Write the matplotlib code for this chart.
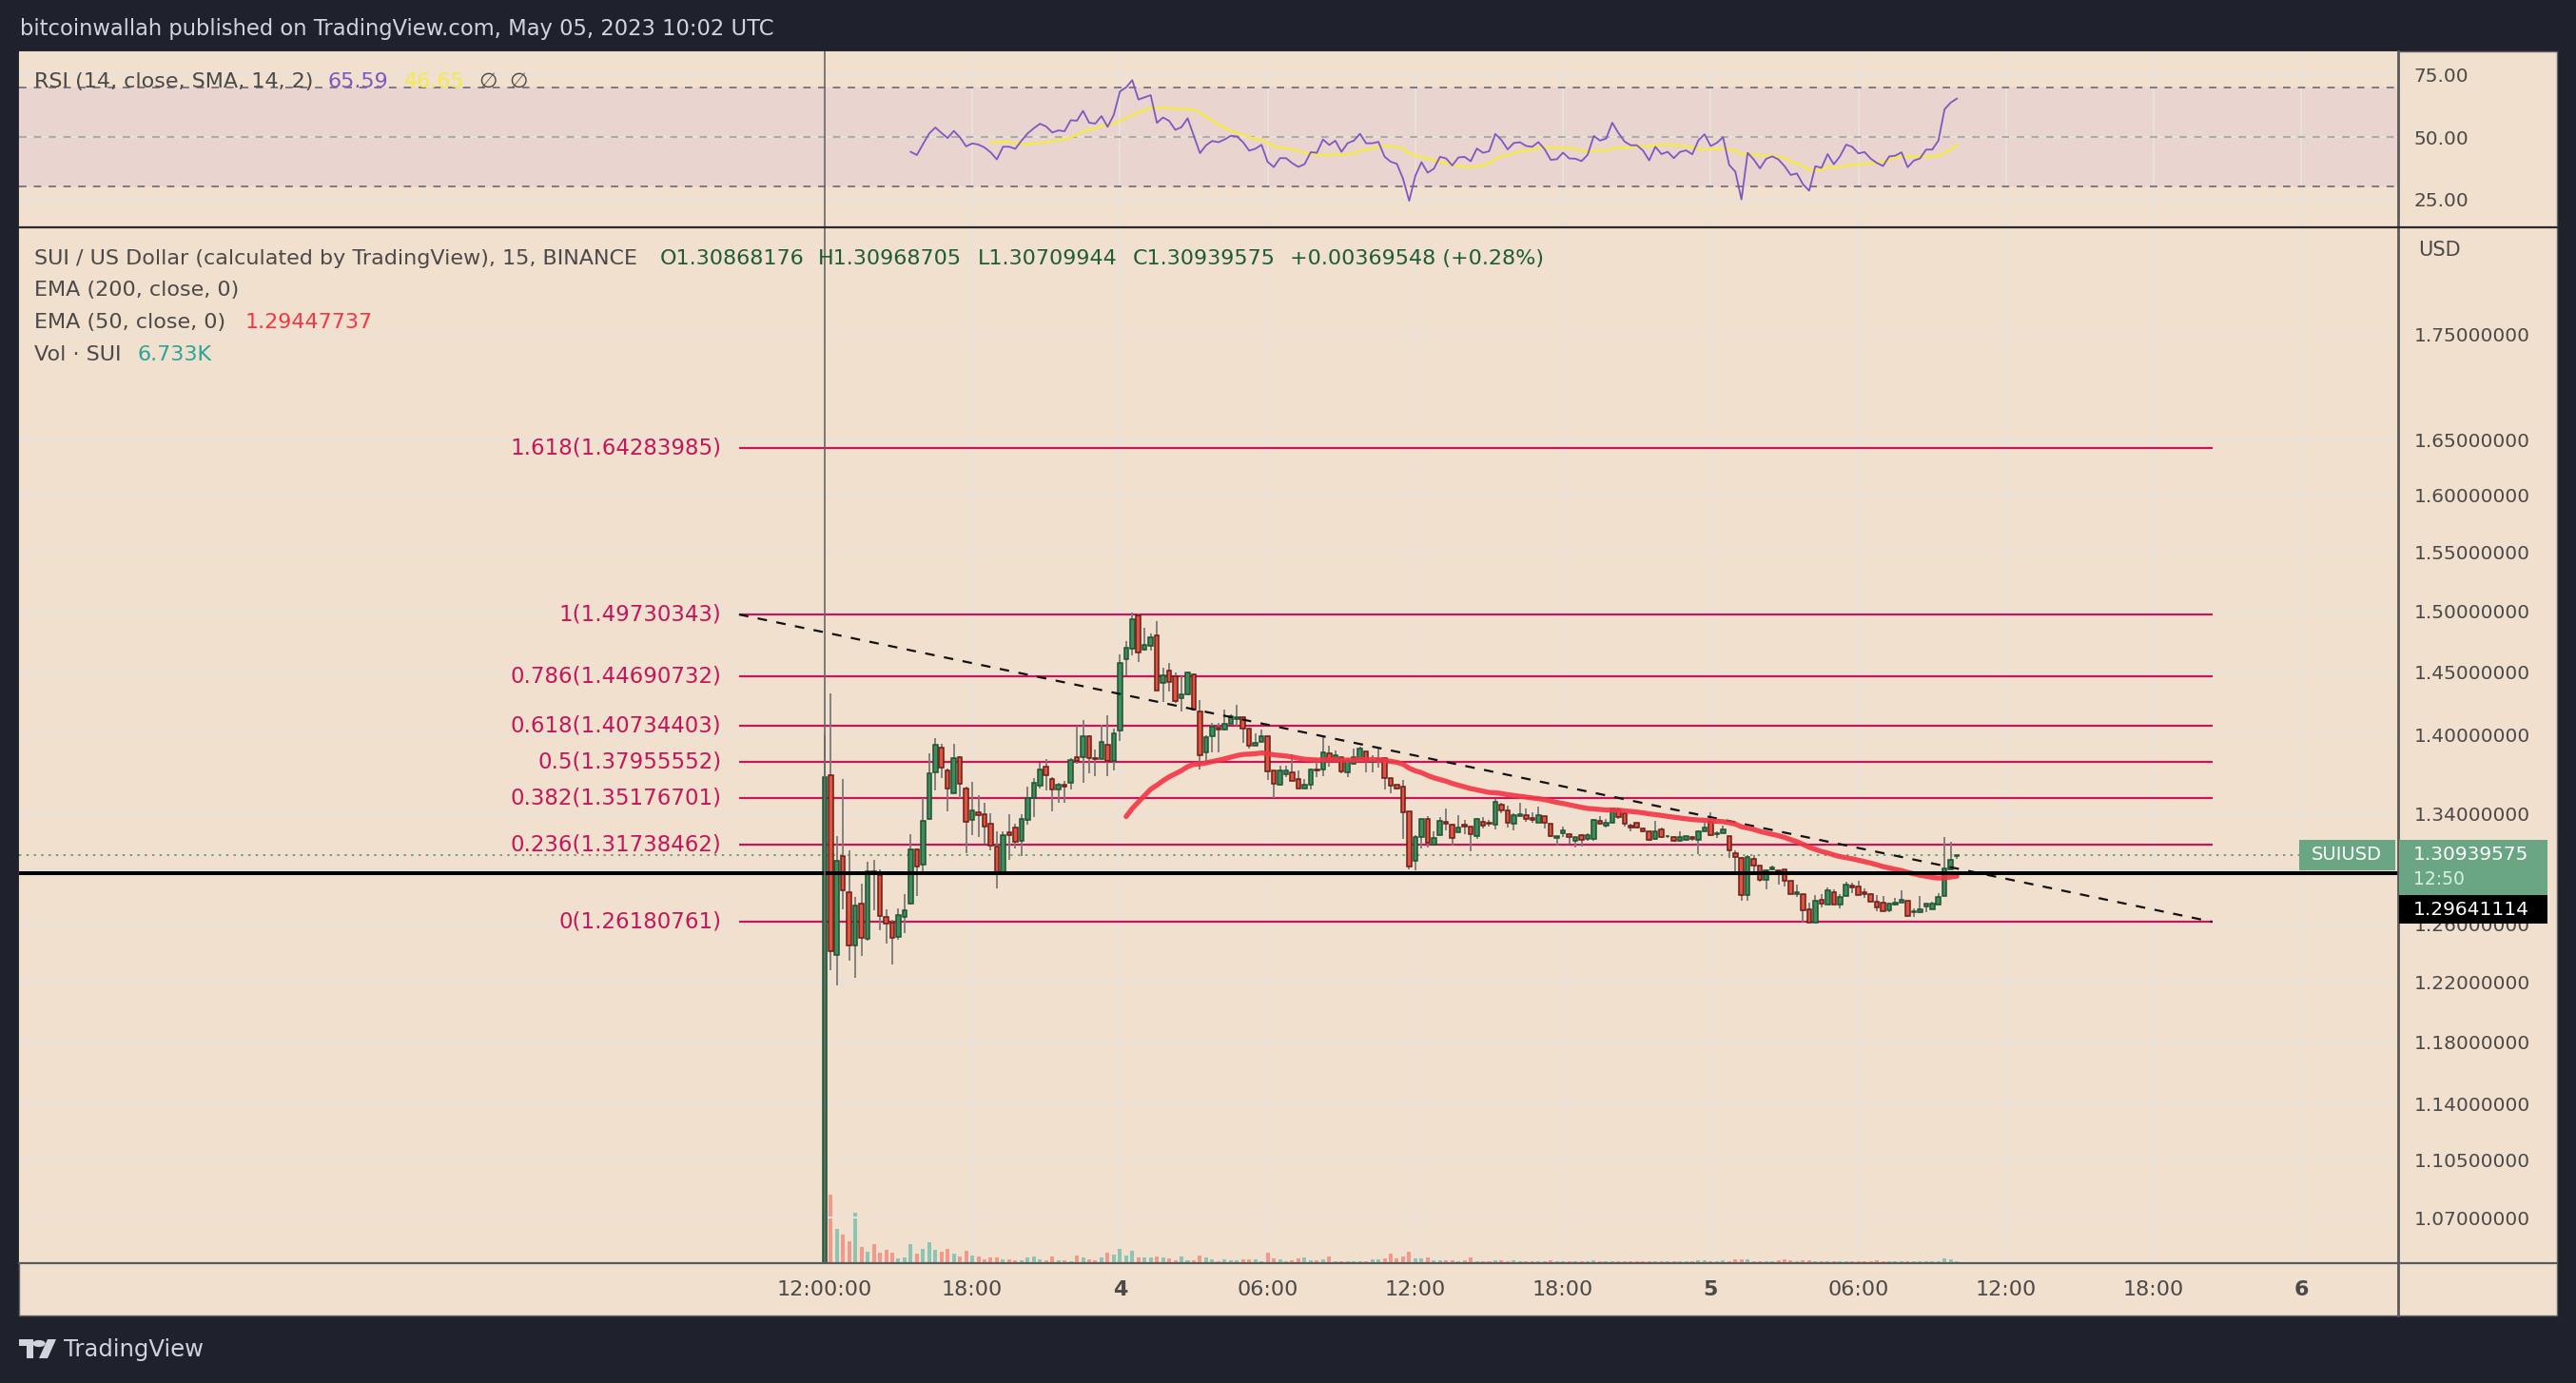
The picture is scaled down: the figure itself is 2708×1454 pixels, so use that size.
import matplotlib
matplotlib.use("Agg")
import matplotlib.pyplot as plt
from matplotlib.patches import Rectangle, Polygon, Circle
from matplotlib.ticker import FixedLocator, NullLocator
import numpy as np
import pandas as pd

# ---- data: SUIUSD 15m candles from May 03 12:00 UTC (bar 0) ----
opens = [0.90, 1.3692, 1.2385, 1.3090, 1.2830, 1.2455, 1.2749, 1.2499, 1.2978, 1.2948,
         1.2654, 1.2614, 1.2510, 1.2654, 1.2744, 1.3136, 1.3028, 1.3361, 1.3716, 1.3904,
         1.3731, 1.3555, 1.3828, 1.3591, 1.3358, 1.3408, 1.3399, 1.3325, 1.3160, 1.2960,
         1.3264, 1.3299, 1.3201, 1.3354, 1.3519, 1.3613, 1.3758, 1.3661, 1.3580, 1.3620,
         1.3634, 1.3828, 1.3828, 1.3990, 1.3824, 1.3816, 1.3926, 1.3802, 1.4040, 1.4605,
         1.4691, 1.4963, 1.4680, 1.4714, 1.4800, 1.4413, 1.4511, 1.4470, 1.4290, 1.4322,
         1.4480, 1.4186, 1.3865, 1.3993, 1.4062, 1.4042, 1.4089, 1.4126, 1.4141, 1.4052,
         1.3919, 1.3948, 1.3990, 1.3726, 1.3620, 1.3699, 1.3712, 1.3661, 1.3592, 1.3622,
         1.3734, 1.3736, 1.3858, 1.3802, 1.3828, 1.3716, 1.3775, 1.3816, 1.3872, 1.3794,
         1.3809, 1.3821, 1.3670, 1.3618, 1.3603, 1.3420, 1.3051, 1.3229, 1.3361, 1.3174,
         1.3243, 1.3342, 1.3318, 1.3260, 1.3318, 1.3304, 1.3234, 1.3339, 1.3332, 1.3318,
         1.3467, 1.3429, 1.3323, 1.3384, 1.3387, 1.3370, 1.3335, 1.3382, 1.3327, 1.3218,
         1.3257, 1.3248, 1.3199, 1.3243, 1.3215, 1.3211, 1.3351, 1.3311, 1.3337, 1.3432,
         1.3406, 1.3313, 1.3332, 1.3290, 1.3269, 1.3213, 1.3283, 1.3232, 1.3227, 1.3197,
         1.3206, 1.3225, 1.3204, 1.3271, 1.3342, 1.3246, 1.3255, 1.3234, 1.3112, 1.3073,
         1.2810, 1.3071, 1.3021, 1.2914, 1.2994, 1.2987, 1.2990, 1.2907, 1.2816, 1.2812,
         1.2704, 1.2615, 1.2771, 1.2740, 1.2830, 1.2740, 1.2800, 1.2873, 1.2871, 1.2830,
         1.2816, 1.2762, 1.2751, 1.2699, 1.2740, 1.2755, 1.2769, 1.2686, 1.2688, 1.2726,
         1.2704, 1.2740, 1.2803, 1.2993, 1.30868176]
highs = [1.4000, 1.4330, 1.3236, 1.3659, 1.3132, 1.2796, 1.2891, 1.3044, 1.3058, 1.2989,
         1.2704, 1.2632, 1.2711, 1.2812, 1.3246, 1.3143, 1.3515, 1.3862, 1.3980, 1.3929,
         1.3741, 1.3936, 1.3840, 1.3608, 1.3644, 1.3543, 1.3484, 1.3401, 1.3271, 1.3267,
         1.3394, 1.3323, 1.3394, 1.3608, 1.3671, 1.3789, 1.3813, 1.3680, 1.3637, 1.3651,
         1.3826, 1.4074, 1.4121, 1.3998, 1.3887, 1.4084, 1.4159, 1.4050, 1.4646, 1.4753,
         1.4990, 1.4984, 1.4866, 1.4813, 1.4921, 1.4539, 1.4577, 1.4495, 1.4470, 1.4506,
         1.4490, 1.4280, 1.3998, 1.4097, 1.4099, 1.4201, 1.4161, 1.4237, 1.4146, 1.4052,
         1.4015, 1.4047, 1.4000, 1.3726, 1.3765, 1.3765, 1.3850, 1.3729, 1.3661, 1.3741,
         1.3819, 1.3988, 1.3919, 1.3882, 1.3828, 1.3826, 1.3896, 1.3914, 1.3872, 1.3845,
         1.3901, 1.3821, 1.3670, 1.3618, 1.3658, 1.3420, 1.3243, 1.3365, 1.3380, 1.3267,
         1.3377, 1.3437, 1.3323, 1.3389, 1.3358, 1.3304, 1.3370, 1.3375, 1.3353, 1.3508,
         1.3486, 1.3460, 1.3401, 1.3484, 1.3437, 1.3413, 1.3455, 1.3382, 1.3327, 1.3236,
         1.3306, 1.3253, 1.3227, 1.3248, 1.3253, 1.3365, 1.3384, 1.3365, 1.3441, 1.3448,
         1.3418, 1.3323, 1.3337, 1.3299, 1.3271, 1.3351, 1.3295, 1.3243, 1.3236, 1.3267,
         1.3235, 1.3236, 1.3276, 1.3337, 1.3408, 1.3267, 1.3313, 1.3234, 1.3127, 1.3085,
         1.3095, 1.3097, 1.3021, 1.2994, 1.3017, 1.2987, 1.2993, 1.2907, 1.2880, 1.2812,
         1.2755, 1.2805, 1.2816, 1.2861, 1.2845, 1.2812, 1.2902, 1.2898, 1.2907, 1.2857,
         1.2823, 1.2807, 1.2800, 1.2755, 1.2789, 1.2839, 1.2769, 1.2715, 1.2800, 1.2749,
         1.2762, 1.2823, 1.3225, 1.3196, 1.30968705]
lows = [0.90, 1.2281, 1.2179, 1.2704, 1.2346, 1.2231, 1.2378, 1.2486, 1.2700, 1.2559,
        1.2466, 1.2324, 1.2495, 1.2539, 1.2740, 1.2801, 1.2971, 1.3354, 1.3579, 1.3668,
        1.3419, 1.3555, 1.3519, 1.3108, 1.3241, 1.3225, 1.3178, 1.3128, 1.2857, 1.2955,
        1.3062, 1.3143, 1.3092, 1.3318, 1.3377, 1.3591, 1.3579, 1.3420, 1.3480, 1.3484,
        1.3584, 1.3780, 1.3634, 1.3709, 1.3683, 1.3814, 1.3683, 1.3729, 1.3956, 1.4475,
        1.4639, 1.4580, 1.4675, 1.4675, 1.4353, 1.4259, 1.4343, 1.4254, 1.4184, 1.4317,
        1.4191, 1.3734, 1.3772, 1.3865, 1.3865, 1.4040, 1.4087, 1.4074, 1.3938, 1.3899,
        1.3919, 1.3948, 1.3656, 1.3520, 1.3613, 1.3680, 1.3651, 1.3592, 1.3592, 1.3584,
        1.3675, 1.3687, 1.3755, 1.3797, 1.3704, 1.3675, 1.3770, 1.3816, 1.3712, 1.3712,
        1.3748, 1.3584, 1.3556, 1.3580, 1.3213, 1.2994, 1.2982, 1.3143, 1.3150, 1.3174,
        1.3243, 1.3276, 1.3167, 1.3260, 1.3248, 1.3125, 1.3213, 1.3288, 1.3306, 1.3283,
        1.3406, 1.3299, 1.3276, 1.3384, 1.3342, 1.3330, 1.3335, 1.3288, 1.3225, 1.3167,
        1.3225, 1.3178, 1.3150, 1.3160, 1.3201, 1.3201, 1.3318, 1.3295, 1.3330, 1.3365,
        1.3306, 1.3271, 1.3290, 1.3260, 1.3197, 1.3206, 1.3218, 1.3220, 1.3190, 1.3190,
        1.3201, 1.3201, 1.3101, 1.3267, 1.3236, 1.3220, 1.3255, 1.3074, 1.2971, 1.2766,
        1.2770, 1.2971, 1.2903, 1.2846, 1.2982, 1.2884, 1.2868, 1.2812, 1.2794, 1.2615,
        1.2615, 1.2615, 1.2722, 1.2740, 1.2740, 1.2711, 1.2800, 1.2823, 1.2807, 1.2789,
        1.2760, 1.2695, 1.2695, 1.2684, 1.2733, 1.2755, 1.2655, 1.2655, 1.2677, 1.2688,
        1.2704, 1.2740, 1.2803, 1.2993, 1.30709944]
closes = [1.3680, 1.2415, 1.3055, 1.2839, 1.2455, 1.2733, 1.2504, 1.2978, 1.2955, 1.2661,
          1.2603, 1.2504, 1.2666, 1.2702, 1.3136, 1.3010, 1.3349, 1.3707, 1.3926, 1.3753,
          1.3591, 1.3821, 1.3627, 1.3342, 1.3425, 1.3389, 1.3306, 1.3167, 1.2960, 1.3243,
          1.3243, 1.3190, 1.3361, 1.3519, 1.3635, 1.3736, 1.3688, 1.3580, 1.3620, 1.3606,
          1.3809, 1.3802, 1.3990, 1.3826, 1.3814, 1.3946, 1.3802, 1.4015, 1.4575, 1.4696,
          1.4934, 1.4662, 1.4722, 1.4782, 1.4353, 1.4475, 1.4419, 1.4267, 1.4320, 1.4495,
          1.4201, 1.3845, 1.3988, 1.4067, 1.4042, 1.4089, 1.4149, 1.4141, 1.4052, 1.3919,
          1.3943, 1.3993, 1.3721, 1.3627, 1.3731, 1.3729, 1.3651, 1.3592, 1.3618, 1.3736,
          1.3729, 1.3865, 1.3802, 1.3845, 1.3719, 1.3804, 1.3828, 1.3896, 1.3802, 1.3802,
          1.3814, 1.3670, 1.3615, 1.3592, 1.3413, 1.3012, 1.3225, 1.3361, 1.3183, 1.3222,
          1.3346, 1.3323, 1.3218, 1.3297, 1.3302, 1.3246, 1.3363, 1.3313, 1.3327, 1.3491,
          1.3429, 1.3330, 1.3389, 1.3396, 1.3361, 1.3353, 1.3389, 1.3330, 1.3232, 1.3236,
          1.3278, 1.3229, 1.3227, 1.3208, 1.3241, 1.3353, 1.3323, 1.3335, 1.3437, 1.3377,
          1.3323, 1.3299, 1.3299, 1.3267, 1.3204, 1.3271, 1.3225, 1.3236, 1.3197, 1.3225,
          1.3232, 1.3211, 1.3271, 1.3299, 1.3243, 1.3257, 1.3281, 1.3132, 1.3085, 1.2807,
          1.3085, 1.3017, 1.2919, 1.2987, 1.3005, 1.2976, 1.2910, 1.2816, 1.2825, 1.2699,
          1.2615, 1.2767, 1.2749, 1.2843, 1.2740, 1.2796, 1.2884, 1.2864, 1.2807, 1.2816,
          1.2760, 1.2722, 1.2695, 1.2749, 1.2753, 1.2771, 1.2659, 1.2693, 1.2704, 1.2749,
          1.2749, 1.2794, 1.3000, 1.3058, 1.30939575]
# volume in thousands of SUI
volumes = [730, 243, 122, 102, 78, 179, 58, 41, 68, 38,
           48, 38, 18, 21, 68, 35, 52, 75, 48, 41,
           52, 35, 25, 45, 28, 25, 15, 21, 21, 15,
           15, 11, 11, 21, 25, 13, 10, 23.5, 11, 11,
           8, 27, 20, 13.5, 11, 20, 37, 30, 50, 27,
           44, 20, 20, 20, 23.5, 20, 17, 11, 23.5, 11,
           11, 27, 20, 13.5, 6.7, 13.5, 10, 10, 13.5, 13.5,
           13.5, 6.7, 37, 17, 13.5, 6.7, 10, 17, 20, 10,
           10, 13.5, 23.5, 6.7, 6.7, 6.7, 6.7, 6.7, 6.7, 13.5,
           13.5, 17, 34, 17, 23.5, 40, 17, 17, 20, 10,
           10, 10, 10, 6.7, 10, 20, 6.7, 6.7, 6.7, 10,
           10, 6.7, 10, 6.7, 6.7, 6.7, 6.7, 6.7, 10, 6.7,
           6.7, 6.7, 6.7, 6.7, 6.7, 10, 6.7, 6.7, 6.7, 6.7,
           6.7, 6.7, 6.7, 6.7, 6.7, 6.7, 6.7, 6.7, 6.7, 6.7,
           6.7, 6.7, 10, 10, 6.7, 6.7, 10, 6.7, 13.5, 13.5,
           13.5, 6.7, 6.7, 6.7, 6.7, 10, 13.5, 10, 6.7, 10,
           10, 6.7, 6.7, 6.7, 6.7, 6.7, 6.7, 6.7, 6.7, 6.7,
           6.7, 10, 6.7, 6.7, 6.7, 6.7, 6.7, 6.7, 6.7, 6.7,
           6.7, 6.7, 17, 13.5, 6.733]

fib_ratios = ["1.618", "1", "0.786", "0.618", "0.5", "0.382", "0.236", "0"]
fib_prices = [1.64283985, 1.49730343, 1.44690732, 1.40734403, 1.37955552,
              1.35176701, 1.31738462, 1.26180761]

price_ticks = [1.07, 1.105, 1.14, 1.18, 1.22, 1.26, 1.30, 1.34, 1.40, 1.45,
               1.50, 1.55, 1.60, 1.65, 1.75]
time_ticks = [0, 24, 48, 72, 96, 120, 144, 168, 192, 216, 240]
time_labels = ["12:00:00", "18:00", "4", "06:00", "12:00", "18:00", "5",
               "06:00", "12:00", "18:00", "6"]
day_labels = ["4", "5", "6"]

last_price = 1.30939575
cross_price = 1.29641114

# ---- indicators (TradingView style: SMA-seeded) ----
c = pd.Series(closes)
n = len(c)
ema50 = np.full(n, np.nan)
ema50[49] = c[:50].mean()
for i in range(50, n):
    ema50[i] = 2 / 51 * c[i] + (1 - 2 / 51) * ema50[i - 1]

d = c.diff()
gain = d.clip(lower=0).values
loss = (-d.clip(upper=0)).values
ag = np.full(n, np.nan)
al = np.full(n, np.nan)
ag[14] = gain[1:15].mean()
al[14] = loss[1:15].mean()
for i in range(15, n):
    ag[i] = (ag[i - 1] * 13 + gain[i]) / 14
    al[i] = (al[i - 1] * 13 + loss[i]) / 14
rsi = 100 - 100 / (1 + ag / al)
rsi_sma = pd.Series(rsi).rolling(14).mean().values

# ---- figure ----
W, H = 2708, 1454
BG = "#1e222d"
PANE = "#f2e0cf"
GRID = "#e8e1da"
TXT = "#4a4a4a"
fig = plt.figure(figsize=(W / 100, H / 100), dpi=100, facecolor=BG)
plt.rcParams["font.family"] = ["DejaVu Sans"]


def fx(x):
    return x / W


def fy(y):
    return 1 - y / H


fig.patches.append(Rectangle((fx(20), fy(1383)), fx(2688 - 20), (1383 - 54) / H,
                             transform=fig.transFigure, facecolor=PANE,
                             edgecolor="#666666", lw=1, zorder=-10))

x_lo, x_hi = -130.9, 255.7
rect_rsi = [fx(20), fy(238), fx(2521 - 20), (238 - 54) / H]
rect_px = [fx(20), fy(1328), fx(2521 - 20), (1328 - 239) / H]

# RSI pane
ax_r = fig.add_axes(rect_rsi, facecolor=PANE)
ax_r.set_xlim(x_lo, x_hi)
ax_r.set_ylim(14.1, 84.5)
ax_r.axhspan(30, 70, color="#b18ad6", alpha=0.13, lw=0, zorder=0)
for lvl, a in [(70, 1), (50, 0.55), (30, 1)]:
    ax_r.axhline(lvl, color="#787b86", lw=1.4, ls=(0, (4, 4)), alpha=a, zorder=1)
ax_r.plot(np.arange(n), rsi, color="#7e57c2", lw=1.3, zorder=3)
ax_r.plot(np.arange(n), rsi_sma, color="#f5e94b", lw=1.8, zorder=2)
ax_r.set_yticks([25, 50, 75])
ax_r.set_yticklabels(["25.00", "50.00", "75.00"])
ax_r.set_xticks(time_ticks)
ax_r.grid(True, color=GRID, lw=1.5)
ax_r.set_axisbelow(True)
ax_r.tick_params(axis="x", length=0, labelbottom=False)
ax_r.tick_params(axis="y", length=0, left=False, labelleft=False, right=False,
                 labelright=True, pad=12, labelsize=14.5, labelcolor=TXT)
for s in ax_r.spines.values():
    s.set_visible(False)

# volume pane (behind candles)
ax_v = fig.add_axes(rect_px, facecolor=PANE)
ax_v.set_xlim(x_lo, x_hi)
ax_v.set_ylim(0, 3680)
ax_v.set_xticks(time_ticks)
ax_v.set_yticks([])
ax_v.grid(True, axis="x", color=GRID, lw=1.5)
ax_v.tick_params(axis="x", length=0, labelbottom=False)
for s in ax_v.spines.values():
    s.set_visible(False)

o = np.array(opens)
h = np.array(highs)
l = np.array(lows)
cl = np.array(closes)
idx = np.arange(n)
up = cl >= o
vol_col = np.where(up, "#8cc5b3", "#f2998c")
ax_v.bar(idx, volumes, width=0.62, color=vol_col, lw=0, zorder=2)

# price pane
ax = fig.add_axes(rect_px, sharex=ax_v)
ax.patch.set_visible(False)
ax.set_yscale("log")
ax.set_ylim(1.0434, 1.8575)
ax.set_xlim(x_lo, x_hi)
ax.yaxis.set_major_locator(FixedLocator(price_ticks))
ax.yaxis.set_minor_locator(NullLocator())
ax.set_yticklabels(["%.8f" % t for t in price_ticks])
ax.grid(True, axis="y", color=GRID, lw=1.5)
ax.set_axisbelow(True)
ax.tick_params(axis="y", which="both", length=0, left=False, labelleft=False,
               right=False, labelright=True, pad=12, labelsize=14.5, labelcolor=TXT)
ax.tick_params(axis="x", length=0, labelbottom=False)
for s in ax.spines.values():
    s.set_visible(False)

# fib levels
fib_x0, fib_x1 = -13.9, 225.5
for r, p in zip(fib_ratios, fib_prices):
    ax.hlines(p, fib_x0, fib_x1, color="#c2185b", lw=1.6, zorder=4)
    ax.text(-16.8, p, "%s(%.8f)" % (r, p), color="#c2185b", fontsize=16.5,
            ha="right", va="center", zorder=6)

# trend line from fib 1 start to fib 0 end
ax.plot([fib_x0, fib_x1], [fib_prices[1], fib_prices[-1]], color="#111111",
        lw=1.6, ls=(0, (4.5, 4.5)), zorder=7)

# candles
ax.vlines(idx, l, h, color="#7a7a7a", lw=1.3, zorder=5)
body_lo = np.minimum(o, cl)
body_hi = np.maximum(o, cl)
ax.bar(idx[up], (body_hi - body_lo)[up], bottom=body_lo[up], width=0.7,
       color="#3f8c5d", edgecolor="#1d5232", lw=1.1, zorder=6)
ax.bar(idx[~up], (body_hi - body_lo)[~up], bottom=body_lo[~up], width=0.7,
       color="#de5440", edgecolor="#6b1d16", lw=1.1, zorder=6)

# EMA 50
ax.plot(idx, ema50, color="#f23645", lw=3.8, alpha=0.9, zorder=8,
        solid_capstyle="round")

# price lines
ax.hlines(last_price, x_lo, 239.6, color="#5fa57c", lw=1.4, ls=(0, (1.2, 2.8)),
          zorder=4)
ax.axhline(cross_price, color="#000000", lw=2.9, zorder=9)

# vertical crosshair at listing bar
for a in (ax_r, ax):
    a.axvline(0, color="#666666", lw=1.2, zorder=9)

# frame lines
fig.lines.append(plt.Line2D([fx(2521), fx(2521)], [fy(54), fy(1383)],
                            transform=fig.transFigure, color="#5a5a5a", lw=2))
fig.lines.append(plt.Line2D([fx(20), fx(2688)], [fy(238.5), fy(238.5)],
                            transform=fig.transFigure, color="#2a2a2a", lw=1.6))
fig.lines.append(plt.Line2D([fx(20), fx(2688)], [fy(1328), fy(1328)],
                            transform=fig.transFigure, color="#5a5a5a", lw=1.6))

# time labels
for t, lab in zip(time_ticks, time_labels):
    xf = fx(20) + (t - x_lo) / (x_hi - x_lo) * fx(2501)
    fig.text(xf, fy(1356), lab, ha="center", va="center", fontsize=16,
             color=TXT, fontweight="bold" if lab in day_labels else "normal")

fig.text(fx(2542), fy(263), "USD", fontsize=15, color=TXT, va="center")

# header
fig.text(fx(21), fy(31), "bitcoinwallah published on TradingView.com, May 05, 2023 10:02 UTC",
         fontsize=16.3, color="#d1d4dc", va="center")

# legends
LEG = 16
GREEN_T = "#1e5c38"
fig.text(fx(36), fy(86), "RSI (14, close, SMA, 14, 2)", fontsize=LEG, color=TXT, va="center")
fig.text(fx(345), fy(86), "65.59", fontsize=LEG, color="#7e57c2", va="center")
fig.text(fx(425), fy(86), "46.65", fontsize=LEG, color="#f5e94b", va="center")
fig.text(fx(503), fy(86), "\u2205", fontsize=LEG, color=TXT, va="center")
fig.text(fx(535), fy(86), "\u2205", fontsize=LEG, color=TXT, va="center")

fig.text(fx(36), fy(272), "SUI / US Dollar (calculated by TradingView), 15, BINANCE",
         fontsize=LEG, color=TXT, va="center")
for xp, s in [(694, "O1.30868176"), (860, "H1.30968705"), (1028, "L1.30709944"),
              (1191, "C1.30939575"), (1356, "+0.00369548 (+0.28%)")]:
    fig.text(fx(xp), fy(272), s, fontsize=LEG, color=GREEN_T, va="center")
fig.text(fx(36), fy(305), "EMA (200, close, 0)", fontsize=LEG, color=TXT, va="center")
fig.text(fx(36), fy(339), "EMA (50, close, 0)", fontsize=LEG, color=TXT, va="center")
fig.text(fx(258), fy(339), "1.29447737", fontsize=LEG, color="#f23645", va="center")
fig.text(fx(36), fy(373), "Vol \u00b7 SUI", fontsize=LEG, color=TXT, va="center")
fig.text(fx(145), fy(373), "6.733K", fontsize=LEG, color="#26a69a", va="center")

# price tags on the axis
TAG = "#6aa684"
fig.patches.append(Rectangle((fx(2417), fy(915)), fx(101), 32 / H, transform=fig.transFigure,
                             facecolor=TAG, lw=0, zorder=20))
fig.text(fx(2467), fy(899), "SUIUSD", fontsize=14, color="white", ha="center",
         va="center", zorder=21)
fig.patches.append(Rectangle((fx(2522), fy(941)), fx(156), 58 / H, transform=fig.transFigure,
                             facecolor=TAG, lw=0, zorder=20))
fig.text(fx(2537), fy(898), "1.30939575", fontsize=14.5, color="white", va="center", zorder=21)
fig.text(fx(2537), fy(925), "12:50", fontsize=13.5, color="#dcefe3", va="center", zorder=21)
fig.patches.append(Rectangle((fx(2522), fy(971)), fx(156), 30 / H, transform=fig.transFigure,
                             facecolor="black", lw=0, zorder=20))
fig.text(fx(2537), fy(956), "1.29641114", fontsize=14.5, color="white", va="center", zorder=21)

# TradingView logo
LOGO = "#d1d4dc"
fig.patches.append(Polygon([(fx(20), fy(1408)), (fx(35), fy(1408)), (fx(35), fy(1428)),
                            (fx(28), fy(1428)), (fx(28), fy(1415)), (fx(20), fy(1415))],
                           closed=True, transform=fig.transFigure, facecolor=LOGO, lw=0))
fig.patches.append(Circle((fx(41), fy(1412.5)), 3.6 / H, transform=fig.transFigure,
                          facecolor=LOGO, lw=0))
fig.patches.append(Polygon([(fx(50), fy(1408)), (fx(59), fy(1408)), (fx(50), fy(1428)),
                            (fx(41), fy(1428))],
                           closed=True, transform=fig.transFigure, facecolor=LOGO, lw=0))
fig.text(fx(67), fy(1419), "TradingView", fontsize=17.5, color=LOGO, va="center",
         fontweight="medium")

fig.savefig("out.png", dpi=100, facecolor=BG)
